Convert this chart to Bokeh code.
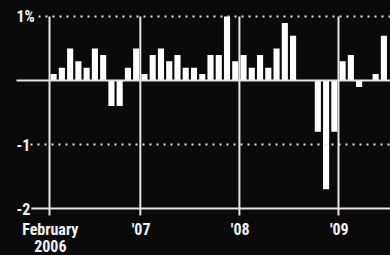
from bokeh.plotting import figure
from bokeh.models import Range1d
from bokeh.core.properties import value
from bokeh.embed import file_html
from bokeh.resources import INLINE

# Monthly change (%), February 2006 .. June 2009
values = [0.1, 0.2, 0.5, 0.3, 0.2, 0.5, 0.4, -0.4, -0.4, 0.2, 0.5,
          0.1, 0.4, 0.5, 0.3, 0.4, 0.2, 0.2, 0.1, 0.4, 0.4, 1.0, 0.3,
          0.4, 0.2, 0.4, 0.2, 0.5, 0.9, 0.7, 0.0, 0.0, -0.8, -1.7, -0.8,
          0.3, 0.4, -0.1, 0.0, 0.1, 0.7]
tick_months = [0, 11, 23, 35]
tick_labels = ["February", "'07", "'08", "'09"]
tick_sublabels = ["2006", "", "", ""]
y_ticks = [1, -1, -2]
y_labels = ["1%", "-1", "-2"]

BG = "#0a0a0a"
FG = "#f2f2f2"
LINE = "#e4e4e4"
FONT = value("'Roboto Condensed', Roboto, sans-serif")

x0, x1 = -5.934, 41.30
y0, y1 = -2.734, 1.25

p = figure(width=390, height=255, output_backend="svg", toolbar_location=None,
           x_range=Range1d(x0, x1), y_range=Range1d(y0, y1),
           min_border=0, background_fill_color=BG, border_fill_color=BG,
           outline_line_color=None)
p.axis.visible = False
p.grid.visible = False

months = list(range(len(values)))
centers = [m + 0.5 for m in months]
p.vbar(x=centers, top=values, bottom=0, width=0.74, fill_color="#ffffff", line_color=None)

# reference lines
p.segment(x0=[-1.33], y0=[1], x1=[x1], y1=[1], line_color=LINE, line_width=2, line_dash="2 5")
p.segment(x0=[-2.3], y0=[-1], x1=[x1], y1=[-1], line_color=LINE, line_width=2, line_dash="2 5")
p.segment(x0=[-4.0], y0=[0], x1=[x1], y1=[0], line_color=LINE, line_width=2)
p.segment(x0=[-2.2], y0=[-2], x1=[x1], y1=[-2], line_color=LINE, line_width=2)

# year dividers
p.segment(x0=tick_months, y0=[1] * len(tick_months), x1=tick_months,
          y1=[-2.11] * len(tick_months), line_color=LINE, line_width=2)

# y labels
p.text(x=[-4.0] * len(y_ticks), y=y_ticks, text=y_labels, text_color=FG,
       text_font=FONT, text_font_style="bold", text_font_size="16px",
       text_align="left", text_baseline="middle")

# x labels
p.text(x=[m + 0.1 for m in tick_months], y=[-2.32] * len(tick_months), text=tick_labels,
       text_color=FG, text_font=FONT, text_font_style="bold", text_font_size="16px",
       text_align="center", text_baseline="alphabetic")
p.text(x=[m + 0.1 for m in tick_months], y=[-2.585] * len(tick_months), text=tick_sublabels,
       text_color=FG, text_font=FONT, text_font_style="bold", text_font_size="16px",
       text_align="center", text_baseline="alphabetic")

html = file_html(p, INLINE)
html = html.replace("<head>", "<head><style>body{background:#0a0a0a;}</style>", 1)
open("out.html", "w").write(html)
